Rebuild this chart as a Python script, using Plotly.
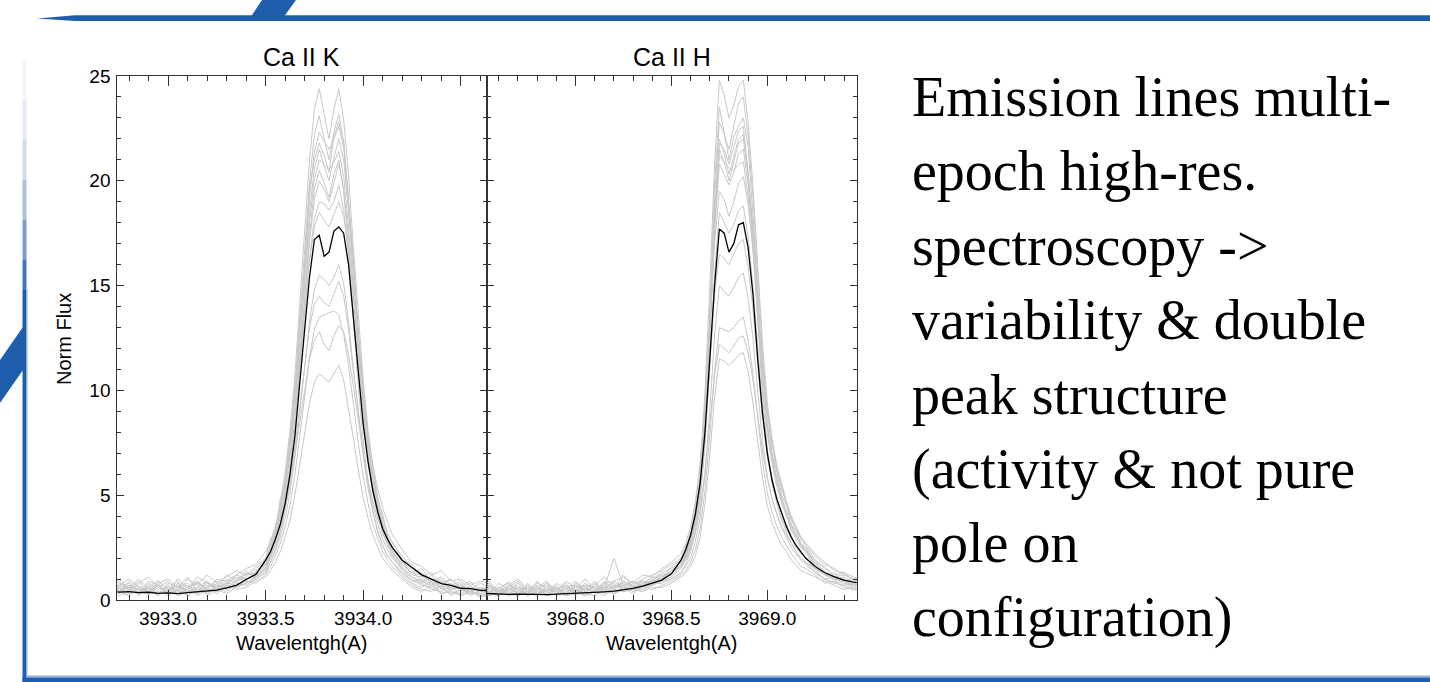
import plotly.graph_objects as go

W, H = 1430, 682

# ---------------- data ----------------
K_WAVE = [3932.70, 3932.75, 3932.80, 3932.85, 3932.90, 3932.95, 3933.00, 3933.05,
          3933.10, 3933.15, 3933.20, 3933.25, 3933.30, 3933.35, 3933.40, 3933.45,
          3933.500, 3933.525, 3933.550, 3933.575, 3933.600, 3933.625, 3933.650,
          3933.675, 3933.700, 3933.725, 3933.750, 3933.775, 3933.800, 3933.825,
          3933.850, 3933.875, 3933.900, 3933.925, 3933.950, 3933.975, 3934.000,
          3934.025, 3934.050, 3934.075, 3934.100, 3934.125, 3934.150,
          3934.20, 3934.25, 3934.30, 3934.35, 3934.40, 3934.45, 3934.50, 3934.55,
          3934.60, 3934.65]

K_MEAN = ([0.42, 0.38, 0.40, 0.35, 0.37, 0.32, 0.34, 0.30, 0.35, 0.38, 0.44, 0.47, 0.58, 0.70, 0.98, 1.22]
          + [1.9, 2.3, 2.9, 3.6, 4.6, 6.0, 7.8, 10.2, 12.9, 15.4, 17.2, 17.4, 16.4, 16.6, 17.6, 17.8,
             17.5, 16.0, 13.6, 10.9, 8.4, 6.6, 5.2, 4.2, 3.4, 2.9, 2.5]
          + [1.9, 1.55, 1.2, 1.0, 0.78, 0.7, 0.56, 0.54, 0.46, 0.45])

K_EPOCH_01 = ([0.5, 0.9, 0.4, 0.8, 1.1, 0.6, 0.9, 0.4, 1.0, 0.7, 1.2, 0.8, 1.1, 1.4, 1.2, 1.6]
              + [2.0, 2.7, 3.5, 4.6, 6.1, 8.1, 10.7, 14.2, 17.6, 21.0, 23.4, 24.4, 23.2, 22.0, 23.4, 24.4,
                 22.9, 20.3, 16.8, 13.4, 10.5, 8.1, 6.3, 4.9, 3.9, 3.2, 2.7]
              + [2.1, 1.5, 1.3, 0.9, 1.1, 0.7, 0.9, 0.5, 0.8, 0.6])
K_EPOCH_02 = ([0.8, 0.3, 0.7, 0.5, 0.4, 0.9, 0.5, 0.7, 0.3, 0.8, 0.6, 0.9, 0.7, 1.2, 1.0, 1.3]
              + [1.8, 2.5, 3.3, 4.4, 5.8, 7.6, 10.2, 13.4, 16.6, 19.9, 22.2, 23.1, 22.0, 21.0, 22.3, 23.2,
                 21.8, 19.2, 16.0, 12.7, 9.9, 7.6, 6.0, 4.6, 3.7, 3.0, 2.5]
              + [1.8, 1.4, 0.9, 1.0, 0.6, 0.8, 0.4, 0.7, 0.3, 0.5])
K_EPOCH_03 = ([0.3, 0.6, 0.8, 0.3, 0.7, 0.4, 0.3, 0.8, 0.6, 0.4, 0.9, 0.5, 1.0, 0.8, 1.3, 1.1]
              + [1.7, 2.4, 3.2, 4.2, 5.6, 7.3, 9.8, 12.9, 16.0, 19.2, 21.4, 22.3, 21.9, 21.5, 22.0, 22.6,
                 21.6, 18.7, 15.6, 12.4, 9.6, 7.4, 5.8, 4.5, 3.6, 2.9, 2.4]
              + [1.9, 1.2, 1.1, 0.7, 0.9, 0.5, 0.7, 0.4, 0.6, 0.2])
K_EPOCH_04 = ([0.6, 0.4, 0.2, 0.6, 0.5, 0.2, 0.7, 0.3, 0.5, 0.9, 0.4, 0.7, 0.6, 0.9, 1.4, 1.0]
              + [1.6, 2.2, 3.0, 3.9, 5.2, 6.9, 9.3, 12.3, 15.4, 18.5, 20.6, 21.5, 20.7, 20.0, 21.1, 22.0,
                 21.0, 18.6, 15.4, 12.3, 9.6, 7.3, 5.7, 4.4, 3.5, 2.8, 2.3]
              + [1.7, 1.3, 1.5, 0.8, 0.6, 1.0, 0.5, 0.3, 0.6, 0.4])
K_EPOCH_05 = ([0.2, 0.7, 0.5, 0.9, 0.3, 0.6, 0.4, 0.6, 0.8, 0.3, 0.7, 0.6, 0.8, 1.1, 0.9, 1.4]
              + [1.7, 2.3, 3.1, 4.0, 5.3, 7.0, 9.3, 12.2, 15.1, 18.0, 20.1, 21.0, 20.8, 20.5, 20.9, 21.4,
                 20.2, 17.8, 14.8, 11.8, 9.2, 7.0, 5.5, 4.3, 3.4, 2.8, 2.3]
              + [1.6, 1.1, 0.8, 1.2, 0.5, 0.6, 0.8, 0.3, 0.4, 0.7])
K_EPOCH_06 = ([0.7, 0.5, 0.6, 0.2, 0.8, 0.5, 0.6, 0.2, 0.4, 0.6, 0.3, 0.8, 0.5, 0.7, 1.0, 1.2]
              + [1.5, 2.1, 2.8, 3.7, 4.9, 6.5, 8.7, 11.5, 14.3, 17.1, 19.1, 20.0, 19.6, 19.0, 19.9, 20.8,
                 19.6, 17.3, 14.4, 11.5, 8.9, 6.9, 5.4, 4.2, 3.3, 2.7, 2.2]
              + [1.5, 1.0, 0.7, 0.6, 0.8, 0.4, 0.3, 0.6, 0.5, 0.3])
K_EPOCH_07 = ([0.4, 0.2, 0.5, 0.7, 0.2, 0.8, 0.2, 0.5, 0.7, 0.2, 0.5, 0.4, 0.9, 0.6, 0.8, 1.1]
              + [1.4, 2.0, 2.7, 3.5, 4.7, 6.2, 8.3, 11.0, 13.7, 16.3, 18.2, 19.0, 18.9, 18.6, 19.0, 19.8,
                 18.6, 16.4, 13.7, 10.9, 8.5, 6.5, 5.1, 4.0, 3.2, 2.6, 2.1]
              + [1.4, 0.9, 1.0, 0.5, 0.4, 0.7, 0.2, 0.4, 0.2, 0.4])
K_EPOCH_08 = ([0.9, 0.6, 0.3, 0.4, 0.6, 0.3, 0.5, 0.9, 0.2, 0.5, 0.3, 0.6, 0.4, 0.8, 0.7, 1.0]
              + [1.3, 1.8, 2.3, 3.0, 3.9, 5.1, 6.8, 8.9, 11.1, 13.3, 14.8, 15.5, 15.3, 15.0, 15.4, 16.0,
                 15.1, 13.3, 11.0, 8.8, 6.9, 5.3, 4.2, 3.3, 2.6, 2.1, 1.8]
              + [1.2, 0.8, 0.6, 0.9, 0.3, 0.5, 0.6, 0.2, 0.5, 0.6])
K_EPOCH_09 = ([0.3, 0.8, 0.6, 0.5, 0.3, 0.7, 0.3, 0.4, 0.6, 0.8, 0.2, 0.5, 0.3, 0.6, 0.9, 0.8]
              + [1.2, 1.6, 2.1, 2.7, 3.5, 4.5, 6.0, 7.8, 9.7, 11.6, 12.9, 13.5, 13.6, 13.7, 13.8, 13.6,
                 12.7, 11.2, 9.3, 7.5, 5.9, 4.6, 3.6, 2.9, 2.3, 1.9, 1.6]
              + [1.1, 0.7, 0.5, 0.4, 0.7, 0.2, 0.5, 0.3, 0.3, 0.2])
K_EPOCH_10 = ([0.5, 0.3, 0.9, 0.4, 0.6, 0.2, 0.7, 0.3, 0.5, 0.3, 0.6, 0.3, 0.7, 0.5, 0.6, 0.9]
              + [1.1, 1.4, 1.8, 2.3, 3.0, 3.8, 5.0, 6.5, 8.0, 9.4, 10.4, 10.8, 10.6, 10.4, 10.8, 11.2,
                 10.5, 9.2, 7.7, 6.2, 4.9, 3.9, 3.1, 2.5, 2.0, 1.7, 1.4]
              + [1.0, 0.6, 0.4, 0.7, 0.3, 0.4, 0.2, 0.5, 0.1, 0.3])
K_EPOCH_11 = ([0.6, 1.0, 0.5, 0.3, 0.9, 0.7, 0.4, 1.0, 0.6, 0.9, 0.5, 1.0, 0.9, 1.2, 1.5, 1.7]
              + [2.3, 2.8, 3.5, 4.4, 5.6, 7.1, 9.2, 11.6, 14.0, 16.2, 17.8, 18.5, 18.1, 17.8, 18.4, 19.0,
                 18.3, 16.8, 14.6, 12.1, 9.8, 7.9, 6.4, 5.3, 4.4, 3.7, 3.1]
              + [2.4, 1.8, 1.6, 1.2, 1.4, 0.9, 1.0, 0.7, 0.9, 0.8])
K_EPOCH_12 = ([0.4, 0.7, 1.0, 0.6, 0.4, 0.8, 1.0, 0.6, 0.5, 1.1, 0.8, 0.6, 1.2, 0.9, 1.1, 1.5]
              + [1.9, 2.9, 3.2, 4.8, 5.6, 7.9, 9.5, 13.3, 15.8, 19.6, 21.0, 21.8, 21.2, 20.4, 22.1, 22.8,
                 21.9, 18.9, 16.3, 12.6, 10.4, 7.6, 6.4, 4.7, 4.1, 3.0, 2.8]
              + [1.9, 1.7, 1.1, 1.3, 0.8, 1.0, 0.6, 0.8, 0.5, 0.7])
K_EPOCH_13 = ([0.7, 0.4, 0.6, 1.0, 0.5, 0.3, 0.8, 0.6, 1.1, 0.4, 0.8, 0.7, 0.5, 1.0, 1.2, 1.3]
              + [1.7, 2.2, 2.8, 3.5, 4.4, 5.5, 6.9, 8.5, 10.1, 11.5, 12.4, 12.8, 12.2, 11.9, 12.6, 13.1,
                 12.8, 11.7, 10.2, 8.6, 7.0, 5.7, 4.7, 3.9, 3.2, 2.7, 2.3]
              + [1.7, 1.3, 1.2, 0.8, 1.0, 0.6, 0.7, 0.9, 0.4, 0.5])
K_EPOCH_14 = ([0.3, 0.5, 0.2, 0.6, 0.4, 0.7, 0.3, 0.5, 0.2, 0.6, 0.4, 0.5, 0.7, 0.6, 0.8, 1.0]
              + [1.3, 1.8, 2.4, 3.2, 4.3, 5.9, 8.2, 11.2, 14.4, 17.4, 19.6, 20.5, 19.9, 19.2, 20.3, 21.0,
                 19.5, 16.7, 13.4, 10.2, 7.6, 5.6, 4.2, 3.2, 2.6, 2.1, 1.8]
              + [1.3, 0.9, 0.8, 0.5, 0.6, 0.3, 0.5, 0.4, 0.2, 0.3])
K_EPOCH_15 = ([0.8, 0.5, 0.7, 0.3, 0.6, 0.9, 0.5, 0.7, 0.4, 0.6, 0.9, 0.4, 0.8, 0.7, 1.0, 1.1]
              + [1.5, 2.0, 2.6, 3.3, 4.3, 5.6, 7.3, 9.3, 11.3, 13.0, 14.1, 14.5, 14.2, 14.0, 14.6, 15.2,
                 14.5, 12.9, 10.9, 8.9, 7.1, 5.6, 4.5, 3.6, 2.9, 2.4, 2.0]
              + [1.5, 1.1, 0.9, 0.7, 0.9, 0.5, 0.6, 0.4, 0.6, 0.4])

H_WAVE = [3967.50, 3967.55, 3967.60, 3967.65, 3967.70, 3967.75, 3967.80, 3967.85,
          3967.90, 3967.95, 3968.00, 3968.05, 3968.10, 3968.15, 3968.20, 3968.25,
          3968.30, 3968.35, 3968.40, 3968.45, 3968.50,
          3968.550, 3968.575, 3968.600, 3968.625, 3968.650, 3968.675, 3968.700,
          3968.725, 3968.750, 3968.775, 3968.800, 3968.825, 3968.850, 3968.875,
          3968.900, 3968.925, 3968.950, 3968.975, 3969.000, 3969.025, 3969.050,
          3969.075, 3969.100, 3969.125, 3969.150, 3969.175, 3969.200,
          3969.25, 3969.30, 3969.35, 3969.40, 3969.45, 3969.50]

H_MEAN = ([0.32, 0.30, 0.29, 0.27, 0.28, 0.26, 0.27, 0.26, 0.28, 0.29, 0.30, 0.33, 0.35, 0.39,
           0.42, 0.48, 0.55, 0.66, 0.80, 0.95, 1.25]
          + [1.9, 2.4, 3.1, 4.1, 5.6, 8.0, 11.4, 15.0, 17.7, 17.5, 16.6, 17.0, 17.9, 18.0, 16.8,
             14.6, 11.5, 8.9, 7.0, 5.7, 4.8, 4.1, 3.5, 3.0, 2.6, 2.3, 2.0]
          + [1.6, 1.3, 1.1, 0.95, 0.85, 0.8])

H_EPOCH_01 = ([0.5, 0.8, 0.3, 0.6, 0.9, 0.4, 0.7, 0.3, 0.8, 0.5, 0.9, 0.4, 0.7, 1.1, 0.6, 0.9, 0.7, 1.0, 1.2, 1.4, 1.7]
              + [2.0, 2.5, 3.2, 4.5, 6.4, 9.9, 14.9, 20.8, 24.8, 24.1, 23.0, 23.6, 24.5, 24.8, 22.8,
                 19.8, 15.9, 12.2, 9.4, 7.7, 6.4, 5.5, 4.7, 4.0, 3.5, 3.0, 2.7]
              + [2.1, 1.7, 1.5, 1.2, 1.0, 1.1])
H_EPOCH_02 = ([0.2, 0.6, 0.4, 0.9, 0.3, 0.7, 0.5, 0.8, 0.3, 0.6, 0.4, 0.8, 0.5, 0.6, 2.0, 0.7, 0.9, 0.6, 1.0, 1.3, 1.5]
              + [1.8, 2.3, 3.0, 4.1, 5.9, 9.1, 13.7, 19.2, 22.8, 22.2, 21.5, 22.6, 23.7, 24.0, 22.1,
                 19.2, 15.4, 11.8, 9.1, 7.4, 6.2, 5.3, 4.6, 3.8, 3.4, 2.9, 2.6]
              + [1.9, 1.5, 1.2, 1.3, 0.9, 0.8])
H_EPOCH_03 = ([0.7, 0.3, 0.6, 0.4, 0.2, 0.8, 0.3, 0.5, 0.6, 0.3, 0.7, 0.5, 0.9, 0.4, 0.7, 0.5, 0.8, 0.9, 0.7, 1.1, 1.4]
              + [1.8, 2.2, 2.9, 4.0, 5.7, 8.8, 13.2, 18.5, 22.0, 21.3, 20.3, 21.1, 22.0, 22.2, 20.4,
                 17.8, 14.2, 10.9, 8.4, 6.9, 5.8, 4.9, 4.2, 3.6, 3.1, 2.7, 2.4]
              + [1.8, 1.3, 1.1, 0.9, 1.0, 0.7])
H_EPOCH_04 = ([0.4, 0.5, 0.2, 0.7, 0.5, 0.3, 0.6, 0.2, 0.5, 0.8, 0.3, 0.6, 0.4, 0.8, 0.5, 0.9, 0.6, 0.7, 1.0, 1.2, 1.3]
              + [1.7, 2.1, 2.8, 3.9, 5.6, 8.6, 12.9, 18.1, 21.5, 20.9, 20.0, 20.9, 21.8, 22.0, 20.2,
                 17.6, 14.1, 10.8, 8.4, 6.8, 5.7, 4.8, 4.2, 3.5, 3.1, 2.6, 2.4]
              + [1.7, 1.4, 1.0, 1.1, 0.8, 0.9])
H_EPOCH_05 = ([0.3, 0.7, 0.5, 0.3, 0.6, 0.5, 0.2, 0.7, 0.4, 0.6, 0.5, 0.3, 0.7, 0.5, 0.9, 0.6, 0.5, 0.8, 0.9, 1.0, 1.4]
              + [1.7, 2.1, 2.7, 3.7, 5.4, 8.3, 12.5, 17.5, 20.8, 20.3, 19.8, 20.4, 21.3, 21.5, 19.8,
                 17.2, 13.8, 10.5, 8.2, 6.7, 5.6, 4.7, 4.1, 3.4, 3.0, 2.6, 2.3]
              + [1.6, 1.2, 1.3, 0.8, 0.7, 0.9])
H_EPOCH_06 = ([0.6, 0.2, 0.4, 0.5, 0.7, 0.2, 0.5, 0.4, 0.7, 0.2, 0.6, 0.7, 0.3, 0.6, 0.8, 0.4, 0.7, 0.6, 0.8, 1.1, 1.2]
              + [1.6, 2.0, 2.6, 3.8, 5.5, 8.5, 12.7, 17.8, 21.2, 20.9, 20.6, 20.5, 20.8, 20.9, 19.2,
                 16.7, 13.4, 10.2, 7.9, 6.5, 5.4, 4.6, 4.0, 3.3, 2.9, 2.5, 2.3]
              + [1.5, 1.3, 0.9, 1.0, 0.6, 0.7])
H_EPOCH_07 = ([0.2, 0.4, 0.6, 0.2, 0.4, 0.6, 0.4, 0.3, 0.5, 0.7, 0.2, 0.5, 0.6, 0.3, 0.6, 0.7, 0.4, 0.6, 0.7, 0.9, 1.1]
              + [1.5, 1.9, 2.4, 3.3, 4.8, 7.4, 11.1, 15.5, 18.5, 18.0, 17.5, 17.9, 18.6, 18.8, 17.3,
                 15.0, 12.0, 9.2, 7.1, 5.8, 4.9, 4.1, 3.6, 3.0, 2.6, 2.3, 2.0]
              + [1.4, 1.0, 1.1, 0.7, 0.8, 0.6])
H_EPOCH_08 = ([0.5, 0.3, 0.2, 0.6, 0.3, 0.4, 0.7, 0.2, 0.3, 0.5, 0.4, 0.2, 0.5, 0.7, 0.4, 0.5, 0.6, 0.4, 0.8, 0.8, 1.0]
              + [1.3, 1.6, 2.0, 2.8, 3.9, 6.0, 9.0, 12.6, 15.0, 14.7, 14.5, 14.9, 15.4, 15.6, 14.4,
                 12.5, 10.0, 7.6, 5.9, 4.8, 4.1, 3.4, 3.0, 2.5, 2.2, 1.9, 1.7]
              + [1.3, 1.0, 0.8, 0.9, 0.5, 0.7])
H_EPOCH_09 = ([0.3, 0.6, 0.3, 0.4, 0.2, 0.5, 0.3, 0.6, 0.2, 0.4, 0.6, 0.3, 0.2, 0.5, 0.3, 0.6, 0.3, 0.7, 0.5, 0.7, 0.9]
              + [1.2, 1.4, 1.8, 2.4, 3.4, 5.2, 7.8, 10.9, 13.0, 12.9, 12.8, 13.0, 13.3, 13.5, 12.4,
                 10.8, 8.6, 6.6, 5.1, 4.2, 3.5, 3.0, 2.6, 2.2, 1.9, 1.6, 1.5]
              + [1.2, 0.8, 0.9, 0.6, 0.5, 0.4])
H_EPOCH_10 = ([0.4, 0.2, 0.5, 0.3, 0.5, 0.2, 0.4, 0.3, 0.5, 0.2, 0.3, 0.5, 0.4, 0.2, 0.5, 0.4, 0.5, 0.4, 0.6, 0.6, 0.8]
              + [1.1, 1.3, 1.6, 2.1, 3.0, 4.6, 6.9, 9.7, 11.5, 11.4, 11.2, 11.4, 11.7, 11.8, 10.9,
                 9.4, 7.6, 5.8, 4.5, 3.7, 3.1, 2.6, 2.3, 1.9, 1.7, 1.4, 1.3]
              + [1.1, 0.9, 0.7, 0.5, 0.6, 0.5])
H_EPOCH_11 = ([0.6, 0.9, 0.4, 0.7, 1.0, 0.5, 0.8, 0.6, 0.4, 0.9, 0.6, 1.0, 0.5, 0.8, 0.9, 1.1, 0.8, 1.2, 1.1, 1.5, 1.8]
              + [2.2, 2.7, 3.5, 4.7, 6.5, 9.3, 13.0, 17.0, 19.5, 19.1, 18.3, 19.0, 19.9, 20.2, 18.9,
                 16.8, 13.9, 11.2, 9.0, 7.5, 6.3, 5.4, 4.6, 3.9, 3.4, 3.0, 2.7]
              + [2.2, 1.8, 1.4, 1.3, 1.1, 1.0])
H_EPOCH_12 = ([0.4, 0.3, 0.8, 0.5, 0.6, 0.3, 0.9, 0.4, 0.6, 0.3, 0.8, 0.6, 0.4, 0.9, 0.5, 1.2, 0.6, 0.8, 1.1, 1.0, 1.6]
              + [1.9, 2.6, 2.9, 4.3, 5.7, 9.4, 13.2, 19.9, 23.5, 22.3, 21.0, 22.1, 22.6, 23.0, 21.6,
                 18.4, 15.1, 11.3, 9.0, 7.0, 6.1, 5.0, 4.5, 3.6, 3.3, 2.7, 2.5]
              + [1.8, 1.6, 1.1, 1.2, 1.0, 0.7])
H_EPOCH_13 = ([0.5, 0.7, 0.3, 0.5, 0.8, 0.4, 0.6, 0.9, 0.3, 0.6, 0.7, 0.4, 0.8, 0.5, 0.6, 0.8, 0.6, 0.9, 0.8, 1.0, 1.3]
              + [1.6, 2.0, 2.5, 3.2, 4.3, 6.1, 8.4, 10.7, 12.2, 12.0, 11.8, 12.1, 12.5, 12.6, 11.8,
                 10.5, 8.8, 7.1, 5.8, 4.8, 4.1, 3.5, 3.1, 2.7, 2.3, 2.0, 1.8]
              + [1.5, 1.2, 1.0, 0.9, 0.7, 0.8])
H_EPOCH_14 = ([0.3, 0.4, 0.2, 0.5, 0.3, 0.4, 0.2, 0.5, 0.4, 0.3, 0.5, 0.2, 0.4, 0.6, 0.3, 0.5, 0.6, 0.5, 0.7, 0.9, 1.0]
              + [1.3, 1.7, 2.3, 3.2, 4.8, 7.9, 12.4, 18.0, 21.8, 21.5, 20.8, 21.6, 22.4, 22.6, 20.3,
                 17.1, 13.2, 9.7, 7.2, 5.6, 4.6, 3.8, 3.2, 2.7, 2.3, 2.0, 1.8]
              + [1.3, 1.0, 0.8, 0.7, 0.5, 0.6])
H_EPOCH_15 = ([0.7, 0.4, 0.6, 0.8, 0.3, 0.6, 0.5, 0.8, 0.5, 0.7, 0.3, 0.7, 0.6, 0.4, 0.7, 0.6, 0.9, 0.7, 0.9, 1.2, 1.3]
              + [1.6, 2.0, 2.6, 3.6, 5.1, 7.8, 11.4, 14.6, 16.5, 16.3, 16.0, 16.5, 17.0, 17.2, 15.9,
                 13.9, 11.2, 8.7, 6.8, 5.6, 4.6, 3.9, 3.4, 2.9, 2.5, 2.2, 2.0]
              + [1.5, 1.2, 1.0, 1.0, 0.7, 0.8])

K_EPOCHS = [K_EPOCH_01, K_EPOCH_02, K_EPOCH_03, K_EPOCH_04, K_EPOCH_05,
            K_EPOCH_06, K_EPOCH_07, K_EPOCH_08, K_EPOCH_09, K_EPOCH_10,
            K_EPOCH_11, K_EPOCH_12, K_EPOCH_13, K_EPOCH_14, K_EPOCH_15]
H_EPOCHS = [H_EPOCH_01, H_EPOCH_02, H_EPOCH_03, H_EPOCH_04, H_EPOCH_05,
            H_EPOCH_06, H_EPOCH_07, H_EPOCH_08, H_EPOCH_09, H_EPOCH_10,
            H_EPOCH_11, H_EPOCH_12, H_EPOCH_13, H_EPOCH_14, H_EPOCH_15]

K_TICKS = [3933.0, 3933.5, 3934.0, 3934.5]
K_TICK_LABELS = ["3933.0", "3933.5", "3934.0", "3934.5"]
H_TICKS = [3968.0, 3968.5, 3969.0]
H_TICK_LABELS = ["3968.0", "3968.5", "3969.0"]
Y_TICKS = [0, 5, 10, 15, 20, 25]
Y_TICK_LABELS = ["0", "5", "10", "15", "20", "25"]
PANEL_TITLES = ["Ca II K", "Ca II H"]
X_TITLE = "Wavelentgh(A)"
Y_TITLE = "Norm Flux"
TEXT_LINES = ["Emission lines multi-", "epoch high-res.", "spectroscopy -&gt;",
              "variability &amp; double", "peak structure", "(activity &amp; not pure",
              "pole on", "configuration)"]

# ---------------- figure ----------------
GRAY = "#c8c8c8"
AX = "#333333"
SANS = "Liberation Sans, Arial, sans-serif"
SERIF = "Liberation Serif, Times New Roman, serif"
BLUE = "#1f5eac"


def px(x):
    return x / W


def py(y):
    return 1 - y / H


fig = go.Figure()
for ep in K_EPOCHS:
    fig.add_trace(go.Scatter(x=K_WAVE, y=ep, mode="lines", xaxis="x", yaxis="y",
                             line=dict(color=GRAY, width=1), hoverinfo="skip", showlegend=False))
fig.add_trace(go.Scatter(x=K_WAVE, y=K_MEAN, mode="lines", xaxis="x", yaxis="y",
                         line=dict(color="black", width=1.3), showlegend=False))
for ep in H_EPOCHS:
    fig.add_trace(go.Scatter(x=H_WAVE, y=ep, mode="lines", xaxis="x2", yaxis="y2",
                             line=dict(color=GRAY, width=1), hoverinfo="skip", showlegend=False))
fig.add_trace(go.Scatter(x=H_WAVE, y=H_MEAN, mode="lines", xaxis="x2", yaxis="y2",
                         line=dict(color="black", width=1.3), showlegend=False))

XL, XM, XR = 117.3, 486.7, 856.7
YT, YB = 76, 600

common_x = dict(showline=True, linecolor=AX, linewidth=1, mirror="ticks", ticks="inside",
                ticklen=10, tickwidth=1, tickcolor=AX, showgrid=False, zeroline=False,
                automargin=False,
                tickfont=dict(family=SANS, size=19, color="black"), ticklabelstandoff=1)
common_y = dict(showline=True, linecolor=AX, linewidth=1, mirror="ticks", ticks="inside",
                ticklen=7, tickwidth=1, tickcolor=AX, showgrid=False, zeroline=False,
                automargin=False,
                range=[0, 25], tickvals=Y_TICKS, ticktext=Y_TICK_LABELS,
                tickfont=dict(family=SANS, size=19, color="black"),
                minor=dict(ticks="inside", ticklen=4, dtick=1, tick0=0, tickcolor=AX, showgrid=False),
                domain=[py(YB), py(YT)])

fig.update_layout(
    template="none",
    width=W, height=H, margin=dict(l=0, r=0, t=0, b=0, pad=0, autoexpand=False),
    paper_bgcolor="white", plot_bgcolor="white", showlegend=False,
    xaxis=dict(common_x, domain=[px(XL), px(XM)], range=[3932.740, 3934.633], anchor="y",
               tickvals=K_TICKS, ticktext=K_TICK_LABELS,
               minor=dict(ticks="inside", ticklen=5, dtick=0.1, tick0=3933.0, tickcolor=AX, showgrid=False)),
    xaxis2=dict(common_x, domain=[px(XM), px(XR)], range=[3967.537, 3969.466], anchor="y2",
                tickvals=H_TICKS, ticktext=H_TICK_LABELS,
                minor=dict(ticks="inside", ticklen=5, dtick=0.1, tick0=3968.0, tickcolor=AX, showgrid=False)),
    yaxis=dict(common_y, anchor="x", ticklabelstandoff=2),
    yaxis2=dict(common_y, anchor="x2", showticklabels=False),
)

ann = []
for title, xc in zip(PANEL_TITLES, [301.5, 671.5]):
    ann.append(dict(text=title, x=px(xc), y=py(57), xref="paper", yref="paper",
                    showarrow=False, xanchor="center", yanchor="middle",
                    font=dict(family=SANS, size=25, color="black")))
for xc in [301.5, 671.5]:
    ann.append(dict(text=X_TITLE, x=px(xc), y=py(643), xref="paper", yref="paper",
                    showarrow=False, xanchor="center", yanchor="middle",
                    font=dict(family=SANS, size=20, color="black")))
ann.append(dict(text=Y_TITLE, x=px(64), y=py(339), xref="paper", yref="paper", textangle=-90,
                showarrow=False, xanchor="center", yanchor="middle",
                font=dict(family=SANS, size=20, color="black")))
for i, line in enumerate(TEXT_LINES):
    ann.append(dict(text=line, x=px(910), y=py(97 + 74.4 * i), xref="paper", yref="paper",
                    showarrow=False, xanchor="left", yanchor="middle",
                    font=dict(family=SERIF, size=56, color="black")))
fig.update_layout(annotations=ann)


def path(pts):
    return "M " + " L ".join(f"{px(a):.5f},{py(b):.5f}" for a, b in pts) + " Z"


shapes = []
# top bar with tapered left end
shapes.append(dict(type="path", xref="paper", yref="paper", line=dict(width=0), fillcolor=BLUE,
                   path=path([(37, 18.5), (75, 15.3), (1430, 15.3), (1430, 21), (75, 21)])))
# top parallelogram
shapes.append(dict(type="path", xref="paper", yref="paper", line=dict(width=0), fillcolor=BLUE,
                   path=path([(250, 18), (262, 0), (296, 0), (283, 18)])))
# left vertical line: faded top part
fade_steps = [(60, 100, 0.06), (100, 140, 0.12), (140, 180, 0.22), (180, 220, 0.38),
              (220, 260, 0.6), (260, 290, 0.85)]
for y0, y1, op in fade_steps:
    shapes.append(dict(type="rect", xref="paper", yref="paper", line=dict(width=0),
                       fillcolor=BLUE, opacity=op, x0=px(22.5), x1=px(26.5), y0=py(y1), y1=py(y0)))
shapes.append(dict(type="rect", xref="paper", yref="paper", line=dict(width=0), fillcolor=BLUE,
                   x0=px(22.5), x1=px(26.5), y0=py(682), y1=py(290)))
shapes.append(dict(type="rect", xref="paper", yref="paper", line=dict(width=0), fillcolor="#8fb0dc",
                   x0=px(26.5), x1=px(27.5), y0=py(677), y1=py(290)))
# left diagonal
shapes.append(dict(type="path", xref="paper", yref="paper", line=dict(width=0), fillcolor=BLUE,
                   path=path([(0, 360), (23, 327), (23, 370), (0, 403)])))
# bottom bar
shapes.append(dict(type="rect", xref="paper", yref="paper", line=dict(width=0), fillcolor="#8fb0dc",
                   x0=px(27.5), x1=px(1430), y0=py(677.5), y1=py(675.5)))
shapes.append(dict(type="rect", xref="paper", yref="paper", line=dict(width=0), fillcolor=BLUE,
                   x0=px(22.5), x1=px(1430), y0=py(682), y1=py(677.5)))
fig.update_layout(shapes=shapes)

fig.write_html("out.html")
